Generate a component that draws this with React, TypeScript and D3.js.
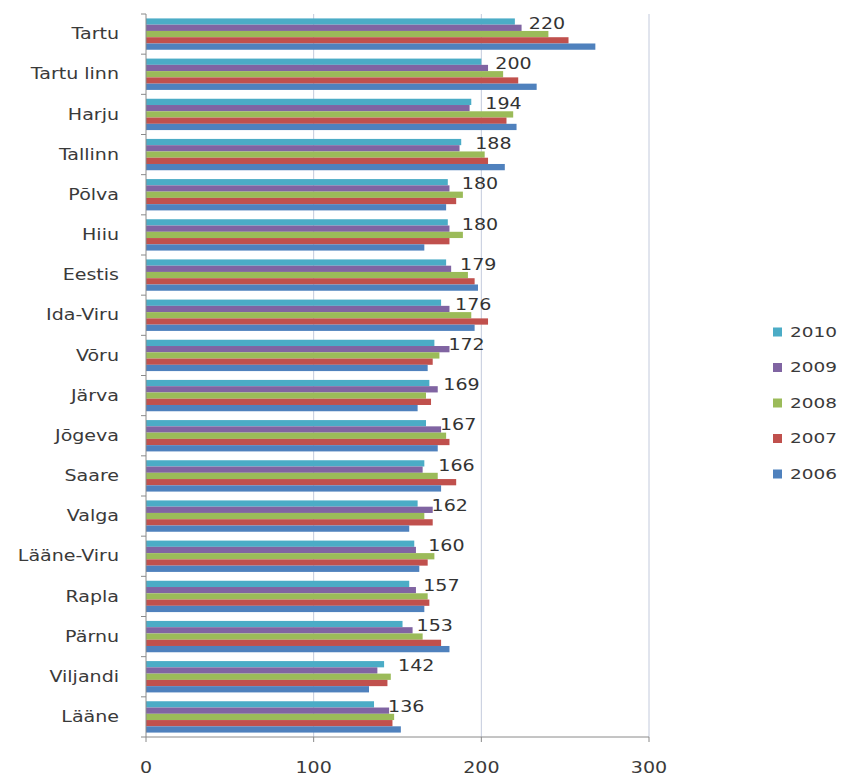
import React from "react";
import * as d3 from "d3";

const categories = [
  "Tartu", "Tartu linn", "Harju", "Tallinn", "Põlva", "Hiiu", "Eestis", "Ida-Viru", "Võru",
  "Järva", "Jõgeva", "Saare", "Valga", "Lääne-Viru", "Rapla", "Pärnu", "Viljandi", "Lääne",
];
const seriesNames = ["2010", "2009", "2008", "2007", "2006"];
const v2010 = [220, 200, 194, 188, 180, 180, 179, 176, 172, 169, 167, 166, 162, 160, 157, 153, 142, 136];
const v2009 = [224, 204, 193, 187, 181, 181, 182, 181, 181, 174, 176, 165, 171, 161, 161, 159, 138, 145];
const v2008 = [240, 213, 219, 202, 189, 189, 192, 194, 175, 167, 179, 174, 166, 172, 168, 165, 146, 148];
const v2007 = [252, 222, 215, 204, 185, 181, 196, 204, 171, 170, 181, 185, 171, 168, 169, 176, 144, 147];
const v2006 = [268, 233, 221, 214, 179, 166, 198, 196, 168, 162, 174, 176, 157, 163, 166, 181, 133, 152];
const seriesValues = [v2010, v2009, v2008, v2007, v2006];
const seriesColors = ["#4BACC6", "#8064A2", "#9BBB59", "#C0504D", "#4F81BD"];
const xTicks = [0, 100, 200, 300];

const W = 842;
const H = 776;
const plot = { left: 146, right: 649, top: 14, bottom: 737 };
const FONT = "'DejaVu Sans', Verdana, sans-serif";
const SX = 1.27;
const textColor = "#3a3a3a";

export default function App() {
  const x = d3.scaleLinear().domain([0, 300]).range([plot.left, plot.right]);
  const y = d3
    .scaleBand<string>()
    .domain(categories)
    .range([plot.top, plot.bottom])
    .paddingInner(0.22)
    .paddingOuter(0.11);
  const inner = d3
    .scaleBand<string>()
    .domain(seriesNames)
    .range([0, y.bandwidth()])
    .padding(0);
  const step = y.step();
  const boundaries = d3.range(categories.length + 1).map((i) => plot.top + i * step);

  const legendX = 773;
  const legendTop = 332;
  const legendStep = 35.5;

  return (
    <svg
      width={W}
      height={H}
      style={{ position: "absolute", left: 0, top: 0, background: "#fff" }}
      fontFamily={FONT}
    >
      <rect x={0} y={0} width={W} height={H} fill="#fff" />
      {/* gridlines */}
      {xTicks.slice(1).map((t) => (
        <line
          key={"g" + t}
          x1={x(t)}
          x2={x(t)}
          y1={plot.top}
          y2={plot.bottom}
          stroke="#c3cadc"
          strokeWidth={1}
        />
      ))}
      {/* bars */}
      {categories.map((c, ci) => (
        <g key={c}>
          {seriesNames.map((s, si) => (
            <rect
              key={s}
              x={x(0)}
              y={(y(c) as number) + (inner(s) as number)}
              width={x(seriesValues[si][ci]) - x(0)}
              height={inner.bandwidth()}
              fill={seriesColors[si]}
            />
          ))}
        </g>
      ))}
      {/* y axis */}
      <line x1={plot.left} x2={plot.left} y1={plot.top} y2={plot.bottom} stroke="#8a8a8a" />
      {boundaries.map((b, i) => (
        <line key={"yt" + i} x1={plot.left - 5} x2={plot.left} y1={b} y2={b} stroke="#8a8a8a" />
      ))}
      {/* x axis */}
      <line x1={plot.left} x2={plot.right} y1={plot.bottom} y2={plot.bottom} stroke="#8a8a8a" />
      {xTicks.map((t) => (
        <g key={"xt" + t}>
          <line x1={x(t)} x2={x(t)} y1={plot.bottom} y2={plot.bottom + 5} stroke="#8a8a8a" />
          <g transform={`translate(${x(t)},${plot.bottom + 31}) scale(${SX},1)`}>
            <text textAnchor="middle" dominantBaseline="central" fontSize={15} fill={textColor}>
              {t}
            </text>
          </g>
        </g>
      ))}
      {/* category labels */}
      {categories.map((c) => (
        <g
          key={"cl" + c}
          transform={`translate(${plot.left - 27},${(y(c) as number) + y.bandwidth() / 2}) scale(${SX},1)`}
        >
          <text textAnchor="end" dominantBaseline="central" fontSize={15} fill={textColor}>
            {c}
          </text>
        </g>
      ))}
      {/* data labels for 2010 */}
      {categories.map((c, ci) => (
        <g
          key={"dl" + c}
          transform={`translate(${x(v2010[ci]) + 14},${(y(c) as number) + 5}) scale(${SX},1)`}
        >
          <text textAnchor="start" dominantBaseline="central" fontSize={15} fill="#333">
            {v2010[ci]}
          </text>
        </g>
      ))}
      {/* legend */}
      {seriesNames.map((s, si) => (
        <g key={"lg" + s} transform={`translate(${legendX},${legendTop + si * legendStep})`}>
          <rect x={0} y={-4.5} width={9} height={9} fill={seriesColors[si]} />
          <g transform={`translate(17,0) scale(1.32,1)`}>
            <text textAnchor="start" dominantBaseline="central" fontSize={14} fill={textColor}>
              {s}
            </text>
          </g>
        </g>
      ))}
    </svg>
  );
}
